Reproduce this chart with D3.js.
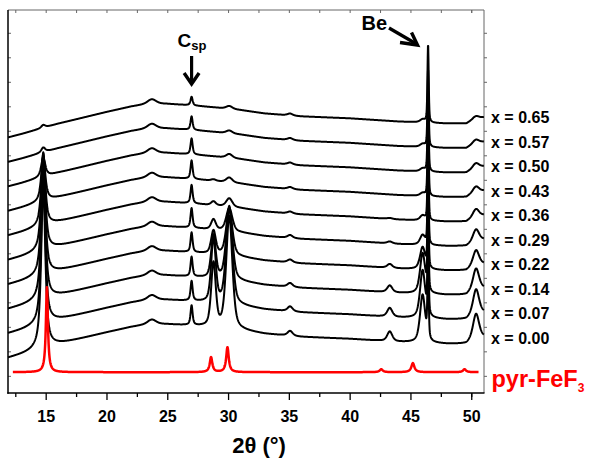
<!DOCTYPE html>
<html>
<head>
<meta charset="utf-8">
<script src="https://cdn.jsdelivr.net/npm/d3@7"></script>
<style>
  body { margin: 0; background: #fff; }
  svg { display: block; }
  text { font-family: "Liberation Sans", Arial, sans-serif; font-weight: bold; }
</style>
</head>
<body>
<svg id="chart" width="592" height="459"></svg>
<script>
// Li-content series of the in-situ XRD patterns (bottom to top)
const compositions = ["0.00", "0.07", "0.14", "0.22", "0.29", "0.36", "0.43", "0.50", "0.57", "0.65"];

// Amorphous background shared by the black patterns (2θ in degrees, intensity in a.u.)
const bgAngles = [11.9, 13, 14, 16, 18, 20, 22, 23.5, 25, 27, 29, 31, 33, 36, 40, 44, 48, 49.6, 50.2, 51.05];
const bgLevels = [0, 14, 28, 56, 80, 104, 126, 138, 137, 131, 122, 112, 98, 86, 78, 65, 57, 57, 73, 82];

// Reflections of the black patterns: position, FWHM, Lorentzian fraction and height per composition
const peakAngles = [14.8, 23.75, 27.0, 28.8, 30.1, 35.1, 43.3, 46.0, 46.45, 50.4];
const peakWidths = [0.4, 0.8, 0.2, 0.45, 0.6, 0.5, 0.5, 0.5, 0.12, 0.6];
const peakShapes = [0.8, 0.5, 0.7, 0.5, 0.5, 0.6, 0.6, 0.6, 0.5, 0.6];
const peakHeights = [
  [670, 610, 555, 480, 400, 295, 185, 80, 20, 12],   // 14.8°
  [18, 18, 18, 18, 18, 18, 18, 18, 18, 18],          // 23.75°
  [80, 80, 80, 80, 80, 75, 75, 65, 55, 35],          // 27.0° C_sp
  [260, 260, 175, 95, 42, 16, 6, 0, 0, 0],           // 28.8°
  [460, 400, 295, 190, 95, 35, 20, 16, 12, 12],      // 30.1°
  [20, 20, 16, 12, 12, 8, 8, 8, 8, 8],               // 35.1°
  [40, 36, 28, 16, 8, 4, 0, 0, 0, 0],                // 43.3°
  [195, 195, 165, 90, 40, 20, 12, 12, 12, 12],       // 46.0°
  [318, 318, 318, 318, 318, 318, 318, 318, 318, 318],// 46.45° Be window
  [105, 105, 90, 65, 50, 33, 25, 20, 16, 12]         // 50.4°
];

// Reference pattern of pyrochlore FeF3
const refRange = [12.3, 50.6];
const refBaseline = 15;
const refPeakAngles = [15.1, 28.6, 29.95, 42.6, 45.2, 49.45];
const refPeakWidths = [0.2, 0.25, 0.25, 0.3, 0.3, 0.3];
const refPeakHeights = [347, 61, 102, 12, 37, 12];

// Axis ticks
const xMajorTicks = [15, 20, 25, 30, 35, 40, 45, 50];
const xMinorTicks = [12.5, 17.5, 22.5, 27.5, 32.5, 37.5, 42.5, 47.5, 50];
const yTicks = d3.range(0, 1401, 100);

const stackStart = 73;
const stackStep = 100;

const svg = d3.select("#chart");
const x = d3.scaleLinear().domain([11.9, 51.05]).range([8, 484]);
const y = d3.scaleLinear().domain([-70, 1493]).range([393, 10]);
const background = d3.scaleLinear().domain(bgAngles).range(bgLevels);

// pseudo-Voigt profile: eta = Lorentzian fraction, w = FWHM
function profile(t, c, w, h, eta) {
  const u = (t - c) / (w / 2);
  const lor = 1 / (1 + u * u);
  const gau = Math.exp(-Math.LN2 * u * u);
  return h * (eta * lor + (1 - eta) * gau);
}
const step = 0.02;

function blackPattern(i) {
  const offset = stackStart + stackStep * i;
  return d3.range(x.domain()[0], x.domain()[1] + 1e-9, step).map(t => {
    let v = offset + background(t);
    peakAngles.forEach((c, k) => { v += profile(t, c, peakWidths[k], peakHeights[k][i], peakShapes[k]); });
    return [t, v];
  });
}

function refPattern() {
  return d3.range(refRange[0], refRange[1] + 1e-9, step).map(t => {
    let v = refBaseline;
    refPeakAngles.forEach((c, k) => { v += profile(t, c, refPeakWidths[k], refPeakHeights[k], 1); });
    return [t, v];
  });
}

const line = d3.line().x(d => x(d[0])).y(d => y(d[1]));

// frame
svg.append("line").attr("x1", 8).attr("x2", 484).attr("y1", 10).attr("y2", 10)
  .attr("stroke", "#666").attr("stroke-width", 1);
svg.append("line").attr("x1", 484).attr("x2", 484).attr("y1", 10).attr("y2", 393)
  .attr("stroke", "#666").attr("stroke-width", 1);

// ticks on the top, left and right edges
const topAxis = svg.append("g").attr("transform", "translate(0,10)")
  .call(d3.axisBottom(x).tickValues(xMajorTicks.concat(xMinorTicks)).tickSize(3).tickFormat(""));
topAxis.select(".domain").remove();
topAxis.selectAll("line").attr("stroke", "#666");

const leftTicks = svg.append("g").attr("transform", "translate(8,0)")
  .call(d3.axisRight(y).tickValues(yTicks).tickSize(3).tickFormat(""));
leftTicks.select(".domain").remove();
leftTicks.selectAll("line").attr("stroke", "#666");

const rightTicks = svg.append("g").attr("transform", "translate(484,0)")
  .call(d3.axisRight(y).tickValues(yTicks).tickSize(3).tickFormat(""));
rightTicks.select(".domain").remove();
rightTicks.selectAll("line").attr("stroke", "#666");

// black patterns
svg.append("g").selectAll("path")
  .data(compositions.map((c, i) => blackPattern(i)))
  .join("path")
  .attr("d", line)
  .attr("fill", "none")
  .attr("stroke", "#000")
  .attr("stroke-width", 2)
  .attr("stroke-linejoin", "round");

// reference pattern
svg.append("path")
  .attr("d", line(refPattern()))
  .attr("fill", "none")
  .attr("stroke", "#ff0000")
  .attr("stroke-width", 2.5)
  .attr("stroke-linejoin", "round");

// bottom axis
const xAxis = svg.append("g").attr("transform", "translate(0,393)")
  .call(d3.axisBottom(x).tickValues(xMajorTicks).tickSize(7).tickFormat(d3.format("d")));
xAxis.select(".domain").remove();
xAxis.selectAll("line").attr("stroke", "#000").attr("stroke-width", 1.3);
xAxis.selectAll("text").attr("y", 29).attr("dy", 0)
  .attr("font-size", 16).attr("font-family", "'Liberation Sans', Arial, sans-serif")
  .attr("font-weight", "bold").attr("fill", "#000");
const xMinor = svg.append("g").attr("transform", "translate(0,393)")
  .call(d3.axisBottom(x).tickValues(xMinorTicks).tickSize(4).tickFormat(""));
xMinor.select(".domain").remove();
xMinor.selectAll("line").attr("stroke", "#000").attr("stroke-width", 1.3);

svg.append("line").attr("x1", 8).attr("x2", 8).attr("y1", 10).attr("y2", 393.7)
  .attr("stroke", "#000").attr("stroke-width", 1.5);
svg.append("line").attr("x1", 7.3).attr("x2", 484.5).attr("y1", 393).attr("y2", 393)
  .attr("stroke", "#000").attr("stroke-width", 1.5);

svg.append("text").attr("x", 259).attr("y", 453).attr("text-anchor", "middle")
  .attr("font-size", 22).text("2θ (°)");

// composition labels
svg.append("g").selectAll("text")
  .data(compositions)
  .join("text")
  .attr("x", 491)
  .attr("y", (c, i) => y(stackStart + stackStep * i + 58))
  .attr("font-size", 16)
  .attr("fill", "#000")
  .text(c => "x = " + c);

// reference label
const refLabel = svg.append("text").attr("x", 491.5).attr("y", 387)
  .attr("font-size", 23.5).attr("fill", "#ff0000");
refLabel.append("tspan").text("pyr-FeF");
refLabel.append("tspan").attr("font-size", 12).attr("dy", 5).text("3");

// C_sp marker
const cx = x(27.0);
const csp = svg.append("text").attr("x", cx - 14).attr("y", 47).attr("font-size", 19);
csp.append("tspan").text("C");
csp.append("tspan").attr("font-size", 13).attr("dy", 3).text("sp");
svg.append("line").attr("x1", cx).attr("x2", cx).attr("y1", 56).attr("y2", 83)
  .attr("stroke", "#000").attr("stroke-width", 3.2);
svg.append("polyline")
  .attr("points", [[cx - 7.5, 73], [cx, 84], [cx + 7.5, 73]].map(p => p.join(",")).join(" "))
  .attr("fill", "none").attr("stroke", "#000").attr("stroke-width", 3.4)
  .attr("stroke-linejoin", "miter");

// Be marker
svg.append("text").attr("x", 361.5).attr("y", 30).attr("font-size", 20).text("Be");
svg.append("line").attr("x1", 389).attr("y1", 28).attr("x2", 416.5).attr("y2", 44)
  .attr("stroke", "#000").attr("stroke-width", 3.2);
svg.append("polyline")
  .attr("points", "400,42.5 417.5,45 411.5,32.5")
  .attr("fill", "none").attr("stroke", "#000").attr("stroke-width", 3.4)
  .attr("stroke-linejoin", "miter");
</script>
</body>
</html>
